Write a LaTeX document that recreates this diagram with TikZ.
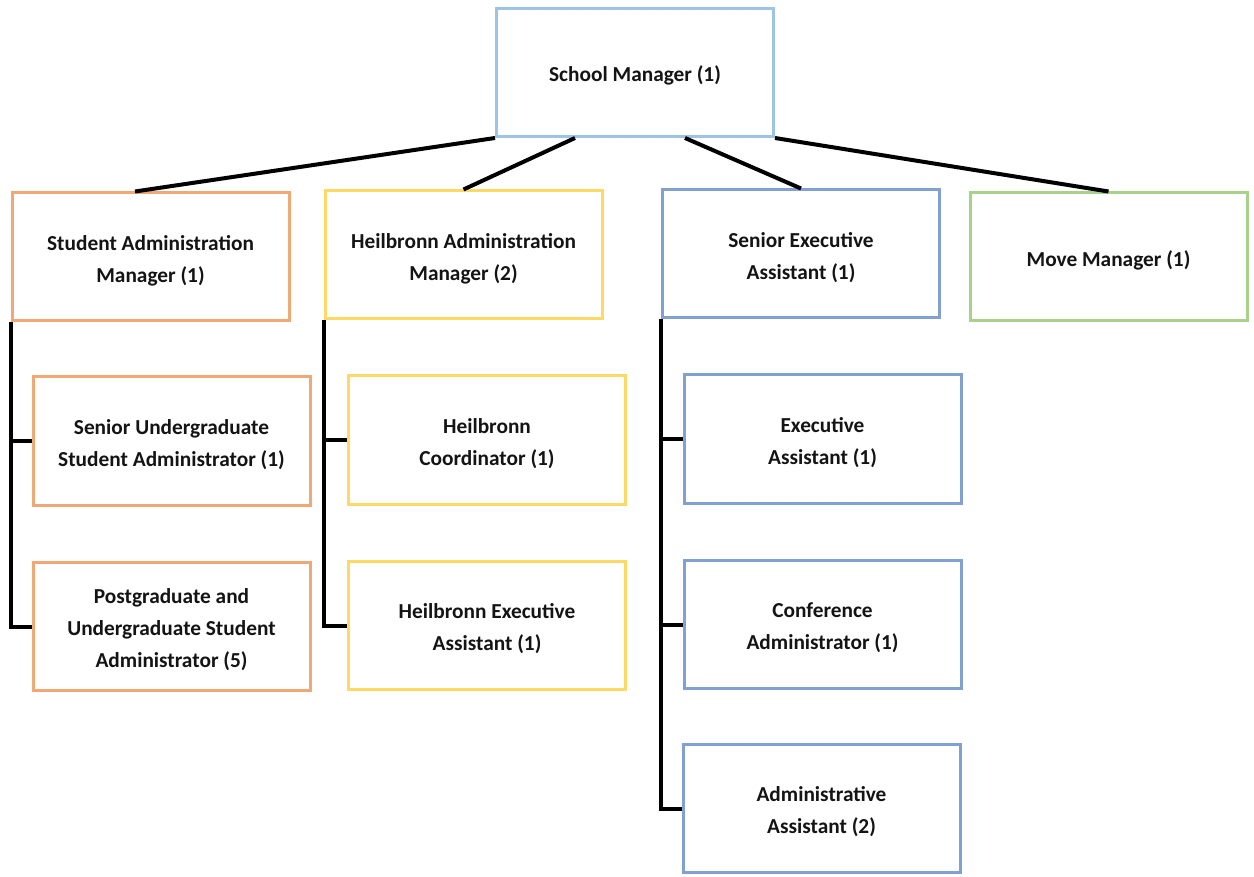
\documentclass[tikz,border=0pt]{standalone}
\usepackage{fontspec}
\setmainfont{Carlito}
\definecolor{orgc}{RGB}{240,168,118}
\definecolor{ylwc}{RGB}{255,217,102}
\definecolor{lbluc}{RGB}{157,195,230}
\definecolor{bluc}{RGB}{131,160,210}
\definecolor{grnc}{RGB}{169,209,142}
\definecolor{txtc}{RGB}{20,20,20}
\begin{document}
\begin{tikzpicture}[x=0.75pt,y=-0.75pt,
  box/.style={draw, line width=2.25pt, inner sep=0pt,
    minimum width=207.75pt, minimum height=96pt,
    label={[lbl]center:#1}},
  lbl/.style={align=center, inner sep=0pt, text=txtc, yshift=-2.5pt,
    font=\bfseries\fontsize{16}{24}\selectfont},
  conn/.style={draw=black, line width=3pt}]
\useasboundingbox (0,0) rectangle (1254,877);
\fill[white] (0,0) rectangle (1254,877);
% top
\node[box={School Manager (1)}, draw=lbluc] (sm) at (635,72.5) {};
% level 2
\node[box={Student Administration\\Manager (1)}, draw=orgc] (sa) at (150.5,257) {};
\node[box={Heilbronn Administration\\Manager (2)}, draw=ylwc] (ha) at (463.5,255) {};
\node[box={Senior Executive\\Assistant (1)}, draw=bluc] (se) at (801,254) {};
\node[box={Move Manager (1)}, draw=grnc] (mm) at (1108.5,257) {};
% level 3
\node[box={Senior Undergraduate\\Student Administrator (1)}, draw=orgc] (sug) at (171.5,441) {};
\node[box={Postgraduate and\\Undergraduate Student\\Administrator (5)}, draw=orgc] (pg) at (171.5,626.5) {};
\node[box={Heilbronn\\Coordinator (1)}, draw=ylwc] (hc) at (487,440) {};
\node[box={Heilbronn Executive\\Assistant (1)}, draw=ylwc] (hea) at (487,625.5) {};
\node[box={Executive\\Assistant (1)}, draw=bluc] (ea) at (822.5,439) {};
\node[box={Conference\\Administrator (1)}, draw=bluc] (ca) at (822.5,624.5) {};
\node[box={Administrative\\Assistant (2)}, draw=bluc] (aa) at (821.5,808.5) {};
% connectors from top
\draw[conn] (sm.south west) -- ([xshift=-11.6pt]sa.north);
\draw[conn] ([xshift=-45pt]sm.south) -- (ha.north);
\draw[conn] ([xshift=37.5pt]sm.south) -- (se.north);
\draw[conn] (sm.south east) -- (mm.north);
% trunks
\draw[conn] (sa.south west) |- (sug.west);
\draw[conn] (sa.south west) |- (pg.west);
\draw[conn] (ha.south west) |- (hc.west);
\draw[conn] (ha.south west) |- (hea.west);
\draw[conn] (se.south west) |- (ea.west);
\draw[conn] (se.south west) |- (ca.west);
\draw[conn] (se.south west) |- (aa.west);
\end{tikzpicture}
\end{document}
